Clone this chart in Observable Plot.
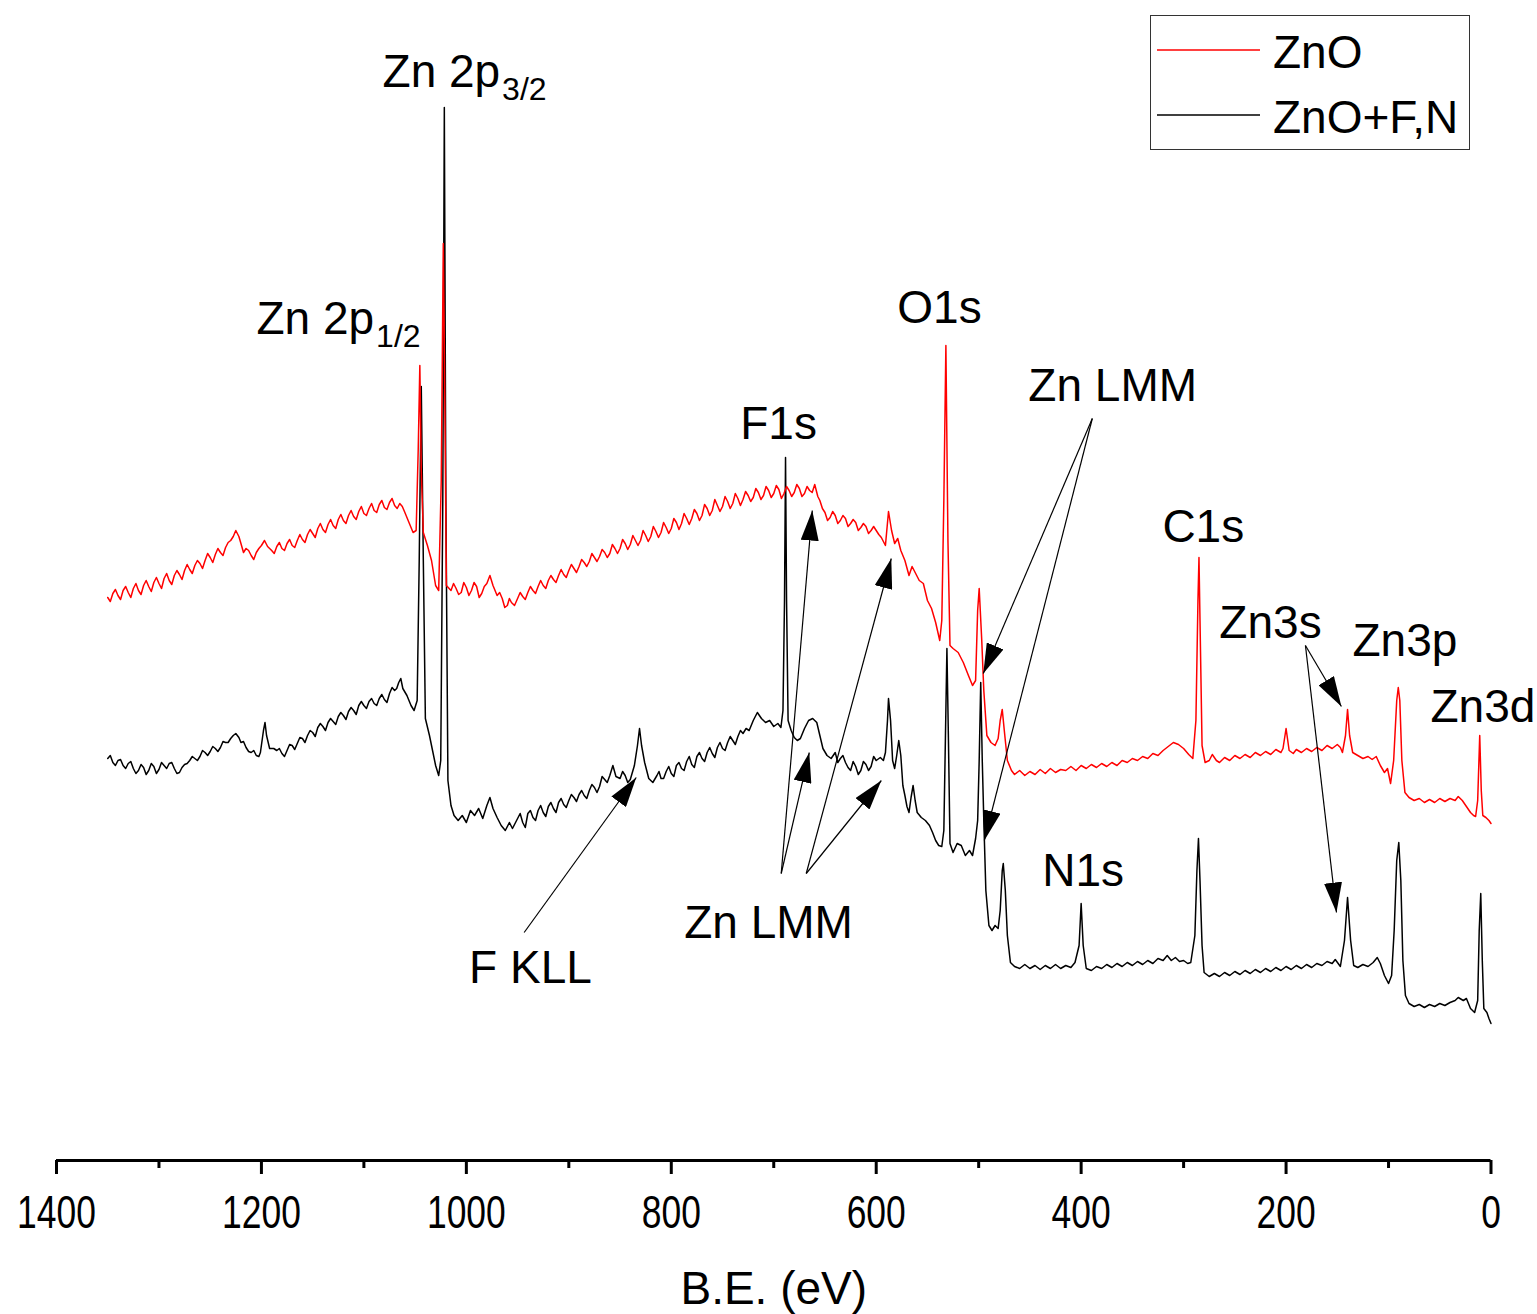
<!DOCTYPE html>
<html><head><meta charset="utf-8">
<script src="https://cdn.jsdelivr.net/npm/d3@7"></script>
<script src="https://cdn.jsdelivr.net/npm/@observablehq/plot@0.6"></script>
<style>
body{margin:0;background:#fff;}
#wrap{position:relative;width:1537px;height:1314px;font-family:"Liberation Sans",Arial,sans-serif;}
#legend{position:absolute;left:1150px;top:15px;}
</style></head><body><div id="wrap"></div>
<script>
// ---- series names / colours ----
const seriesNames = ["ZnO", "ZnO+F,N"];
const seriesColors = ["#ff0000", "#000000"];

// ---- ZnO spectrum: [binding energy eV, intensity a.u.] ----
const spectrumZnO = [
[1350,563],[1347.5,559],[1345,567],[1342.5,571],[1340,565],[1337.5,561],[1335,570],[1332.5,574],[1330,568],[1327.5,563],
[1325,572],[1322.5,577],[1320,570],[1317.5,566],[1315,575],[1312.5,580],[1310,574],[1307.5,569],[1305,578],[1302.5,583],
[1300,577],[1297.5,572],[1295,582],[1292.5,587],[1290,580],[1287.5,576],[1285,585],[1282.5,590],[1280,586],[1277.5,581],
[1275,590],[1272.5,596],[1270,591],[1267.5,587],[1265,595],[1262.5,600],[1260,597],[1257.5,592],[1255,600],[1252.5,607],
[1250,603],[1247.5,598],[1245,606],[1242.5,612],[1240,608],[1237.5,605],[1235,613],[1232.5,618],[1230,620],[1227.5,624],
[1225,630],[1222,624],[1220,617],[1217.5,608],[1215,612],[1212.5,610],[1210,605],[1207.5,601],[1205,608],[1202.5,612],
[1200,615],[1197,620],[1194,614],[1190,610],[1187.5,607],[1185,614],[1182.5,618],[1180,612],[1177.5,610],[1175,617],
[1172.5,621],[1170,615],[1167.5,613],[1165,620],[1162.5,626],[1160,621],[1157.5,618],[1155,626],[1152.5,631],[1150,627],
[1147.5,623],[1145,632],[1142.5,637],[1140,631],[1137.5,628],[1135,636],[1132.5,641],[1130,635],[1127.5,632],[1125,641],
[1122.5,646],[1120,640],[1117.5,637],[1115,645],[1112.5,650],[1110,644],[1107.5,641],[1105,649],[1102.5,654],[1100,647],
[1097.5,645],[1095,652],[1092.5,657],[1090,650],[1087.5,648],[1085,656],[1082.5,660],[1080,653],[1077.5,651],[1075,658],
[1072.5,662],[1070,655],[1067.5,652],[1065,657],[1062.5,654],[1060,648],[1056,638],[1052,628],[1049,630],[1047,710],
[1045.4,795],[1044,690],[1042,628],[1038,615],[1034,600],[1030,575],[1027,570],[1024.5,680],[1022.5,917],[1021,760],
[1019.5,575],[1015,570],[1012.5,577],[1010,572],[1007.5,566],[1005,568],[1002.5,578],[1000,573],[997.5,565],[995,570],
[992.5,578],[990,574],[987.5,563],[985,567],[982.5,574],[980,577],[977,585],[974,575],[970,565],[967.5,568],
[965,562],[962.5,553],[960,555],[958,562],[956,558],[953,555],[950,562],[947.5,568],[945,564],[942.5,561],
[940,568],[937.5,574],[935,570],[932.5,567],[930,574],[927.5,580],[925,575],[922.5,572],[920,580],[917.5,585],
[915,581],[912.5,578],[910,585],[907.5,591],[905,586],[902.5,583],[900,590],[897.5,596],[895,592],[892.5,588],
[890,594],[887.5,601],[885,598],[882.5,594],[880,599],[877.5,607],[875,603],[872.5,599],[870,604],[867.5,611],
[865,608],[862.5,603],[860,607],[857.5,616],[855,612],[852.5,607],[850,612],[847.5,621],[845,617],[842.5,611],
[840,616],[837.5,625],[835,620],[832.5,615],[830,620],[827.5,630],[825,625],[822.5,619],[820,624],[817.5,634],
[815,629],[812.5,623],[810,628],[807.5,638],[805,633],[802.5,627],[800,632],[797.5,642],[795,638],[792.5,631],
[790,637],[787.5,647],[785,642],[782.5,636],[780,642],[777.5,651],[775,647],[772.5,640],[770,645],[767.5,656],
[765,652],[762.5,645],[760,650],[757.5,661],[755,655],[752.5,649],[750,654],[747.5,664],[745,659],[742.5,652],
[740,657],[737.5,667],[735,662],[732.5,655],[730,661],[727.5,669],[725,665],[722.5,659],[720,663],[717.5,672],
[715,668],[712.5,661],[710,665],[707.5,674],[705,670],[702.5,663],[700,667],[697.5,675],[695,671],[692.5,662],
[690,667],[687.5,674],[685,670],[682.5,664],[680,668],[677.5,676],[675,672],[672.5,664],[670,667],[667.5,674],
[665,670],[662.5,668],[660,676],[657,664],[655,660],[652.5,652],[650,648],[647.5,640],[645,643],[642.5,649],
[640,645],[637.5,637],[635,640],[632.5,645],[630,642],[627.5,634],[625,637],[622.5,641],[620,638],[617.5,630],
[615,633],[612.5,637],[610,634],[607.5,627],[605,630],[602.5,634],[600,630],[597.5,626],[595,623],[591,615],
[588,649],[585,630],[582,617],[579,622],[576,610],[572,600],[568,585],[565,594],[562,588],[558,580],
[554,577],[550,560],[546,552],[542,538],[538,520],[536,540],[534,660],[532,815],[530,620],[528,515],
[525,512],[520,508],[515,498],[510,485],[506,475],[503,480],[501,550],[499.5,572],[497,520],[495,470],
[492,425],[488,418],[484,415],[481,422],[479,440],[477,451],[475,430],[472,400],[468,390],[465,386],
[460,390],[455,385],[450,389],[445,386],[440,391],[435,387],[430,392],[425,388],[420,391],[415,390],
[410,394],[405,390],[400,395],[395,392],[390,396],[385,393],[380,397],[375,394],[370,398],[365,395],
[360,400],[355,398],[350,402],[345,400],[340,404],[335,402],[330,407],[325,405],[320,410],[315,414],
[310,418],[305,416],[300,412],[295,406],[291,402],[288,440],[286,560],[285,603],[284,540],[282,415],
[279,398],[275,400],[272,406],[268,400],[265,398],[260,403],[255,400],[250,405],[245,402],[240,406],
[235,403],[230,408],[225,405],[220,409],[215,406],[210,411],[205,408],[203,412],[200,432],[197,410],
[193,407],[190,411],[185,408],[180,412],[175,409],[170,413],[165,410],[160,415],[155,412],[150,416],
[147,413],[145,408],[142,425],[140,451],[138,425],[135,408],[130,405],[125,402],[120,404],[116,401],
[112,404],[108,395],[104,388],[101,392],[98,377],[95,400],[92,460],[90.5,473],[89,460],[87,400],
[84,368],[80,363],[75,360],[70,362],[65,358],[60,361],[55,358],[50,362],[45,359],[40,362],
[35,360],[32,364],[28,360],[24,354],[20,348],[17,345],[15,344],[13,360],[11,425],[9.5,370],
[8,345],[5,343],[2,340],[0,337]
];

// ---- ZnO+F,N spectrum: [binding energy eV, intensity a.u.] ----
const spectrumZnOFN = [
[1350,402],[1347.5,405],[1345,398],[1342.5,395],[1340,400],[1337.5,401],[1335,395],[1332.5,392],[1330,397],[1327.5,399],
[1325,392],[1322.5,387],[1320,390],[1317.5,396],[1315,393],[1312.5,386],[1310,390],[1307.5,397],[1305,394],[1302.5,387],
[1300,391],[1297.5,398],[1295,395],[1292.5,392],[1290,397],[1287.5,398],[1285,392],[1282.5,387],[1280,388],[1277.5,393],
[1275,396],[1272.5,397],[1270,400],[1267.5,404],[1265,402],[1262.5,400],[1260,404],[1257.5,410],[1255,408],[1252.5,405],
[1250,409],[1247.5,414],[1245,412],[1242.5,409],[1240,413],[1237.5,419],[1235,418],[1232.5,418],[1230,422],[1227.5,425],
[1225,427],[1222,423],[1220,418],[1217.5,419],[1215,413],[1212.5,409],[1210,408],[1207.5,410],[1205,405],[1202.5,404],
[1201,408],[1198,430],[1196.5,438],[1195,425],[1192,412],[1188,412],[1185,410],[1182.5,412],[1180,407],[1177.5,404],
[1175,410],[1172.5,416],[1170,415],[1167.5,411],[1165,417],[1162.5,423],[1160,422],[1157.5,418],[1155,425],[1152.5,430],
[1150,428],[1147.5,424],[1145,433],[1142.5,437],[1140,434],[1137.5,430],[1135,438],[1132.5,442],[1130,439],[1127.5,436],
[1125,444],[1122.5,448],[1120,445],[1117.5,441],[1115,449],[1112.5,453],[1110,450],[1107.5,446],[1105,455],[1102.5,459],
[1100,455],[1097.5,452],[1095,459],[1092.5,462],[1090,457],[1087.5,455],[1085,462],[1082.5,466],[1080,461],[1077.5,458],
[1075,467],[1072.5,473],[1070,470],[1068,472],[1066,478],[1064,482],[1062,472],[1058,465],[1054,455],[1051,450],
[1048,460],[1046,600],[1044,774],[1042,600],[1040,442],[1036,425],[1033,410],[1030,395],[1027,385],[1025,400],
[1023,660],[1021.5,1053],[1020,660],[1018,380],[1015,355],[1012,345],[1008,340],[1004,345],[1000,338],[996,350],
[992,345],[988,352],[984,342],[980,355],[977,363],[974,352],[970,343],[966,335],[962,330],[958,338],
[955,332],[950,342],[947.5,347],[945,338],[942.5,333],[940,347],[937.5,350],[935,343],[932.5,340],[930,350],
[927.5,355],[925,348],[922.5,344],[920,354],[917.5,358],[915,352],[912.5,348],[910,358],[907.5,362],[905,356],
[902.5,353],[900,360],[897.5,366],[895,363],[892.5,359],[890,366],[887.5,370],[885,365],[882.5,362],[880,370],
[877.5,376],[875,373],[872.5,368],[870,374],[867.5,384],[865,381],[862.5,378],[860,385],[857,395],[854,384],
[850,382],[847.5,389],[845,385],[842.5,378],[840,381],[836,395],[833,415],[831,432],[829,415],[826,398],
[822,382],[818,378],[814,385],[812,389],[810,382],[807.5,382],[805,389],[802.5,394],[800,387],[797.5,384],
[795,395],[792.5,398],[790,392],[787.5,390],[785,399],[782.5,404],[780,396],[777.5,393],[775,404],[772.5,408],
[770,402],[767.5,399],[765,408],[762.5,413],[760,407],[757.5,403],[755,413],[752.5,418],[750,412],[747.5,410],
[745,418],[742.5,424],[740,420],[737.5,416],[735,424],[732.5,430],[730,427],[727,432],[724,430],[720,440],
[716,448],[712,442],[708,438],[704,440],[700,434],[696,437],[693,433],[691,450],[689.5,560],[688.5,703],
[687.5,560],[686,440],[683,430],[680,423],[677,420],[674,422],[670,432],[666,440],[662,442],[658,438],
[655,425],[652,412],[648,405],[644,402],[640,408],[637.5,398],[635,402],[632.5,405],[630,398],[627.5,393],
[625,390],[622.5,399],[620,394],[617.5,386],[615,390],[612.5,399],[610,396],[607.5,390],[605,394],[602.5,404],
[600,400],[596,403],[593,400],[591,408],[589,440],[588,462],[586,440],[584,400],[582,392],[580,405],
[578,420],[576,405],[574,375],[572,365],[570,354],[568,348],[566,363],[564,375],[562,360],[560,348],
[556,343],[552,340],[548,335],[545,328],[542,320],[539,315],[536,314],[534,330],[532.5,420],[531,512],
[529.5,420],[528,317],[525,308],[521,317],[517,315],[513,305],[509,310],[506,305],[503,322],[501,340],
[499.5,400],[498,478],[496.5,400],[495,340],[493,270],[490,235],[487,230],[484,235],[481,232],[479,250],
[477,290],[476,297],[474,270],[472,225],[469,198],[465,194],[460,192],[455,196],[450,192],[445,195],
[440,191],[435,195],[430,192],[425,196],[420,192],[415,195],[410,193],[406,198],[402,215],[400,257],
[398,215],[395,192],[390,190],[385,194],[380,192],[375,196],[370,193],[365,197],[360,194],[355,198],
[350,195],[345,199],[340,196],[335,200],[330,197],[325,202],[320,200],[316,205],[312,200],[308,203],
[304,199],[300,200],[296,197],[293,198],[289,225],[287,290],[285.5,322],[284,280],[282,215],[280,188],
[275,184],[270,187],[265,184],[260,188],[255,185],[250,189],[245,186],[240,190],[235,187],[230,191],
[225,188],[220,192],[215,189],[210,193],[205,190],[200,194],[195,191],[190,195],[185,192],[180,196],
[175,193],[170,197],[165,195],[160,199],[155,197],[152,201],[147,194],[143,220],[140,263],[137,220],
[134,195],[130,193],[125,196],[120,194],[115,198],[111,203],[108,197],[104,185],[100,177],[97,185],
[94.5,230],[92,300],[90,318],[88,280],[86,200],[83.5,165],[80,157],[75,154],[70,156],[65,153],
[60,156],[55,154],[50,157],[45,155],[40,158],[35,160],[32,163],[27,160],[24,162],[20,152],
[16,148],[13,160],[11.5,230],[10,267],[8.5,200],[7,152],[4,148],[2,142],[0,137]
];

// ---- axis ticks ----
const majorTicks = [1400, 1200, 1000, 800, 600, 400, 200, 0];
const minorTicks = [1300, 1100, 900, 700, 500, 300, 100];
const xLabel = "B.E. (eV)";

// ---- peak annotations: text, energy, intensity (baseline), anchor, size ----
const peakLabels = [
  {t: "Zn 2p", e: 967.0, v: 1074, a: "end", s: 46},
  {t: "3/2", e: 965.1, v: 1061, a: "start", s: 32},
  {t: "Zn 2p", e: 1090.0, v: 827, a: "end", s: 46},
  {t: "1/2", e: 1088.1, v: 814, a: "start", s: 32},
  {t: "O1s", e: 579.4, v: 838, a: "start", s: 46},
  {t: "F1s", e: 732.7, v: 722, a: "start", s: 46},
  {t: "Zn LMM", e: 451.5, v: 760, a: "start", s: 46},
  {t: "C1s", e: 320.7, v: 619, a: "start", s: 46},
  {t: "Zn3s", e: 265.1, v: 523, a: "start", s: 46},
  {t: "Zn3p", e: 135.2, v: 505, a: "start", s: 46},
  {t: "Zn3d", e: 59.1, v: 439, a: "start", s: 46},
  {t: "N1s", e: 437.9, v: 275, a: "start", s: 46},
  {t: "Zn LMM", e: 787.4, v: 223, a: "start", s: 46},
  {t: "F KLL", e: 997.3, v: 178, a: "start", s: 46}
];

// ---- arrows: tail (e1,v1) -> head (e2,v2) ----
const arrows = [
  {e1: 943.6, v1: 228, e2: 834.2, v2: 383},
  {e1: 692.7, v1: 287, e2: 662.4, v2: 650},
  {e1: 692.7, v1: 287, e2: 665.3, v2: 408},
  {e1: 668.3, v1: 287, e2: 585.3, v2: 602},
  {e1: 668.3, v1: 287, e2: 595.0, v2: 380},
  {e1: 389.1, v1: 742, e2: 495.5, v2: 487},
  {e1: 389.1, v1: 742, e2: 494.5, v2: 320},
  {e1: 181.1, v1: 515, e2: 146.0, v2: 454},
  {e1: 181.1, v1: 515, e2: 150.8, v2: 248}
];

const toRows = arr => arr.map(([e, v]) => ({e, v}));
const labelsStart = peakLabels.filter(d => d.a === "start");
const labelsEnd = peakLabels.filter(d => d.a === "end");

const chart = Plot.plot({
  width: 1537, height: 1314,
  marginLeft: 56, marginRight: 46.5, marginTop: 0, marginBottom: 154,
  style: {fontFamily: "'Liberation Sans', Arial, sans-serif", background: "white", color: "black"},
  x: {domain: [1400, 0]},
  y: {domain: [0, 1160], axis: null},
  marks: [
    Plot.line(toRows(spectrumZnOFN), {x: "e", y: "v", stroke: seriesColors[1], strokeWidth: 1.5}),
    Plot.line(toRows(spectrumZnO), {x: "e", y: "v", stroke: seriesColors[0], strokeWidth: 1.5}),
    Plot.link(arrows, {x1: "e1", y1: "v1", x2: "e2", y2: "v2", stroke: "black", strokeWidth: 1.2}),
    Plot.text(labelsStart, {x: "e", y: "v", text: "t", textAnchor: "start", fontSize: "s", lineAnchor: "bottom", fill: "black"}),
    Plot.text(labelsEnd, {x: "e", y: "v", text: "t", textAnchor: "end", fontSize: "s", lineAnchor: "bottom", fill: "black"}),
    Plot.ruleY([0], {stroke: "black", strokeWidth: 3}),
    Plot.axisX({ticks: majorTicks, tickSize: 14, tickPadding: 21, strokeWidth: 3, fontSize: 46, label: null, tickFormat: d => String(d)}),
    Plot.axisX({ticks: minorTicks, tickSize: 8, strokeWidth: 3, text: null, label: null}),
    Plot.text([xLabel], {text: d => d, frameAnchor: "bottom", dy: 143, lineAnchor: "bottom", fontSize: 46, fill: "black"})
  ]
});

// filled arrow heads
const ns = "http://www.w3.org/2000/svg";
const defs = document.createElementNS(ns, "defs");
defs.innerHTML = '<marker id="ahead" markerUnits="userSpaceOnUse" markerWidth="30" markerHeight="18" refX="30" refY="9" orient="auto"><path d="M0,0L30,9L0,18Z" fill="black"/></marker>';
chart.insertBefore(defs, chart.firstChild);
chart.querySelectorAll('g[aria-label="link"] path').forEach(p => p.setAttribute("marker-end", "url(#ahead)"));

// condensed tick labels
function squeeze(sel, sx) {
  chart.querySelectorAll(sel).forEach(t => {
    let tr = t.getAttribute("transform") || "";
    const x = t.getAttribute("x");
    if (x != null && !isNaN(+x)) { t.removeAttribute("x"); tr += ` translate(${+x},0)`; }
    t.setAttribute("transform", tr + ` scale(${sx},1)`);
  });
}
squeeze('g[aria-label="x-axis tick label"] text', 0.77);

const wrap = document.getElementById("wrap");
wrap.appendChild(chart);

// legend (inside plot area, top-right)
const lg = d3.select(wrap).append("div").attr("id", "legend")
  .append("svg").attr("width", 321).attr("height", 136)
  .style("font-family", "'Liberation Sans', Arial, sans-serif");
lg.append("rect").attr("x", 0.5).attr("y", 0.5).attr("width", 319).attr("height", 134)
  .attr("fill", "white").attr("stroke", "#333").attr("stroke-width", 1);
seriesNames.forEach((name, i) => {
  const cy = 35 + i * 65;
  lg.append("line").attr("x1", 7).attr("x2", 110).attr("y1", cy).attr("y2", cy)
    .attr("stroke", seriesColors[i]).attr("stroke-width", 1.3);
  lg.append("text").attr("x", 123).attr("y", cy + 18).attr("font-size", 46).attr("fill", "black").text(name);
});
</script></body></html>
